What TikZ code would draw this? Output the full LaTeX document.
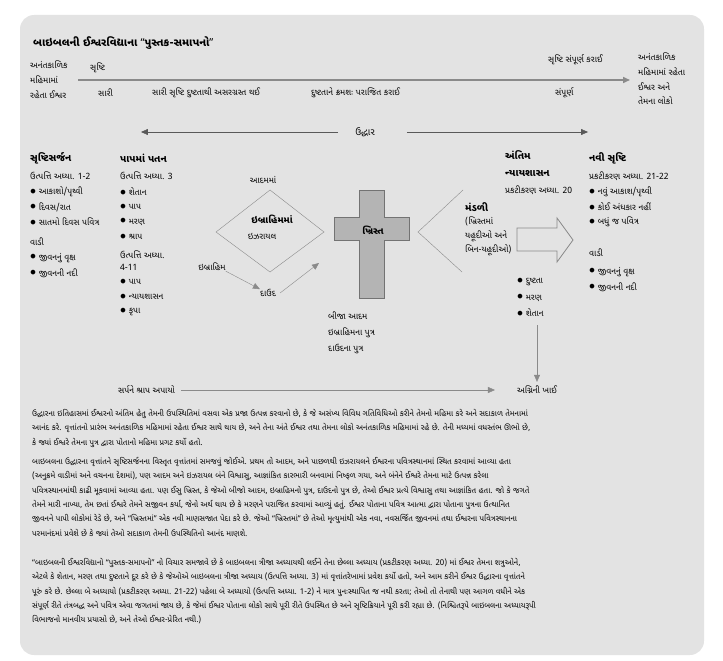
\documentclass[tikz,border=0pt]{standalone}
\usepackage{fontspec}
\setmainfont[Script=Gujarati]{Noto Sans Gujarati UI}
\newfontfamily\latn{Noto Sans}
\usetikzlibrary{arrows.meta}
\definecolor{panel}{HTML}{E3E3E3}
\definecolor{lineg}{HTML}{8A8A8A}
\definecolor{crossg}{HTML}{B4B4B4}
\newcommand{\opq}{{\latn “}}
\newcommand{\clq}{{\latn ”}}
\newcommand{\blt}{\raisebox{0.15ex}{\scalebox{1.3}{$\bullet$}}\hspace{0.3em}}
\tikzset{
  lbl/.style={inner sep=0pt, anchor=west, font=\fontsize{8.7}{14.6}\selectfont},
  lbls/.style={lbl, align=left, anchor=north west},
  head/.style={inner sep=0pt, anchor=west, font=\fontsize{10}{16}\selectfont\bfseries},
  para/.style={inner sep=0pt, anchor=north west, align=left, font=\fontsize{8}{14.4}\selectfont},
  arr/.style={draw=lineg, -{Triangle[length=7pt,width=6pt]}},
}
\begin{document}
\begin{tikzpicture}[x=1bp,y=-1bp]
  \useasboundingbox (0,0) rectangle (723,661);
  % the grey panel
  \fill[panel, rounded corners=14bp] (20,15) rectangle (704,655);
  \node[inner sep=0pt, anchor=west, font=\fontsize{11}{13}\selectfont\bfseries] (title) at (33,43) {બાઇબલની ઈશ્વરવિદ્યાના \opq પુસ્તક-સમાપનો\clq};

  % top time line
  \node[lbls] (god) at (30,61) {અનંતકાળિક\\મહિમામાં\\રહેતા ઈશ્વર};
  \node[lbl] (creation) at (90,68) {સૃષ્ટિ};
  \coordinate (tlA) at (78,80);
  \coordinate (tlB) at (630,80);
  \draw[arr, line width=1.6bp] (tlA) -- (tlB);
  \node[lbl] (good) at (98,93) {સારી};
  \node[lbl] (marred) at (152,93) {સારી સૃષ્ટિ દુષ્ટતાથી અસરગ્રસ્ત થઈ};
  \node[lbl] (defeat) at (311,93) {દુષ્ટતાને ક્રમશઃ પરાજિત કરાઈ};
  \node[lbl] (perfect) at (555,93) {સંપૂર્ણ};
  \node[lbl] (perfected) at (548,60) {સૃષ્ટિ સંપૂર્ણ કરાઈ};
  \node[lbls] (godpeople) at (638,53) {અનંતકાળિક\\મહિમામાં રહેતા\\ઈશ્વર અને\\તેમના લોકો};

  % redemption line
  \node[lbl, anchor=center, font=\fontsize{9.5}{11}\selectfont] (redem) at (365,132) {ઉદ્ધાર};
  \coordinate (redL) at (141,132);
  \coordinate (redR) at (588,132);
  \draw[arr, thin, draw=black!65] ([xshift=-17bp]redem.west) -- (redL);
  \draw[arr, thin, draw=black!65] ([xshift=32bp]redem.east) -- (redR);

  % creation column
  \node[head] (crh) at (30,158) {સૃષ્ટિસર્જન};
  \node[lbl] (cr1) at (30,176) {ઉત્પત્તિ અધ્યા. 1-2};
  \node[lbl] (cr2) at (30,192) {\blt આકાશો/પૃથ્વી};
  \node[lbl] (cr3) at (30,207) {\blt દિવસ/રાત};
  \node[lbl] (cr4) at (30,222) {\blt સાતમો દિવસ પવિત્ર};
  \node[lbl] (cr5) at (30,242) {વાડી};
  \node[lbl] (cr6) at (30,258) {\blt જીવનનું વૃક્ષ};
  \node[lbl] (cr7) at (30,273) {\blt જીવનની નદી};

  % fall column
  \node[head] (fah) at (120,158) {પાપમાં પતન};
  \node[lbl] (fa1) at (120,176) {ઉત્પત્તિ અધ્યા. 3};
  \node[lbl] (fa2) at (120,192) {\blt શેતાન};
  \node[lbl] (fa3) at (120,207) {\blt પાપ};
  \node[lbl] (fa4) at (120,222) {\blt મરણ};
  \node[lbl] (fa5) at (120,237) {\blt શ્રાપ};
  \node[lbl] (fa6) at (120,255) {ઉત્પત્તિ અધ્યા.};
  \node[lbl] (fa7) at (120,267) {4-11};
  \node[lbl] (fa8) at (120,282) {\blt પાપ};
  \node[lbl] (fa9) at (120,297) {\blt ન્યાયશાસન};
  \node[lbl] (fa10) at (120,312) {\blt કૃપા};

  % Abraham, Israel and David
  \node[lbl, anchor=center] (adam) at (263,180) {આદમમાં};
  \draw[lineg] (216,232) -- (270,190) -- (324,232) -- (270,272) -- cycle;
  \node[head, anchor=center, font=\fontsize{9.5}{11}\selectfont\bfseries] (inabr) at (272,219) {ઇબ્રાહિમમાં};
  \node[lbl, anchor=center] (israel) at (262,236) {ઇઝરાયલ};
  \node[lbl, anchor=center] (abraham) at (212,267) {ઇબ્રાહિમ};
  \node[lbl, anchor=center] (david) at (268,293) {દાઉદ};
  \draw[arr] (abraham.south east) -- (david.north west);
  \coordinate (crossin) at (319,263);
  \draw[arr] ([xshift=4bp]david.east) -- (crossin);

  % the cross
  \draw[fill=crossg, draw=black!55] (359,190) -- (384,190) -- (384,217) -- (409,217) -- (409,240)
    -- (384,240) -- (384,298) -- (359,298) -- (359,240) -- (334,240) -- (334,217) -- (359,217) -- cycle;
  \node[head, anchor=center, font=\fontsize{9.5}{11}\selectfont\bfseries] (christ) at (373,230) {ખ્રિસ્ત};
  \node[lbls, font=\fontsize{8.7}{16}\selectfont] (christof) at (328,312) {બીજા આદમ\\ઇબ્રાહિમના પુત્ર\\દાઉદના પુત્ર};

  % the church
  \draw[lineg] (463,190) -- (418,232) -- (462,272);
  \node[head] (church) at (465,207) {મંડળી};
  \node[lbls, font=\fontsize{8.7}{14}\selectfont] (inchrist) at (465,217) {(ખ્રિસ્તમાં\\યહૂદીઓ અને\\બિન-યહૂદીઓ)};
  \draw[lineg, line width=0.8bp] (517,228) -- (557,228) -- (557,218) -- (573,240) -- (557,262) -- (557,251) -- (517,251) -- cycle;

  % final judgment
  \node[lbls, font=\fontsize{10}{17}\selectfont\bfseries] (judg) at (505,150) {અંતિમ\\ન્યાયશાસન};
  \node[lbl] (rev20) at (505,190) {પ્રકટીકરણ અધ્યા. 20};
  \node[lbl] (ju1) at (517,282) {\blt દુષ્ટતા};
  \node[lbl] (ju2) at (517,298) {\blt મરણ};
  \node[lbl] (ju3) at (517,313) {\blt શેતાન};
  \node[lbl, anchor=center] (lake) at (537,390) {અગ્નિની ખાઈ};
  \coordinate (juA) at (537,325);
  \draw[arr] (juA) -- ([yshift=4bp]lake.north);

  % new creation
  \node[head] (nch) at (589,158) {નવી સૃષ્ટિ};
  \node[lbl] (nc1) at (589,176) {પ્રકટીકરણ અધ્યા. 21-22};
  \node[lbl] (nc2) at (589,192) {\blt નવું આકાશ/પૃથ્વી};
  \node[lbl] (nc3) at (589,207) {\blt કોઈ અંધકાર નહીં};
  \node[lbl] (nc4) at (589,222) {\blt બધું જ પવિત્ર};
  \node[lbl] (nc5) at (589,253) {વાડી};
  \node[lbl] (nc6) at (589,272) {\blt જીવનનું વૃક્ષ};
  \node[lbl] (nc7) at (589,287) {\blt જીવનની નદી};

  % serpent cursed
  \node[lbl] (serpent) at (118,390) {સર્પને શ્રાપ અપાયો};
  \draw[arr] ([xshift=6bp]serpent.east) -- ([xshift=-22bp]lake.west);

  % the text below
  \node[para] (p1) at (32,409) {ઉદ્ધારના ઇતિહાસમાં ઈશ્વરનો અંતિમ હેતુ તેમની ઉપસ્થિતિમાં વસવા એક પ્રજા ઉત્પન્ન કરવાનો છે, કે જે અસંખ્ય વિવિધ ગતિવિધિઓ કરીને તેમનો મહિમા કરે અને સદાકાળ તેમનામાં\\
આનંદ કરે. વૃત્તાંતનો પ્રારંભ અનંતકાળિક મહિમામાં રહેતા ઈશ્વર સાથે થાય છે, અને તેના અંતે ઈશ્વર તથા તેમના લોકો અનંતકાળિક મહિમામાં રહે છે. તેની મધ્યમાં વધસ્તંભ ઊભો છે,\\
કે જ્યાં ઈશ્વરે તેમના પુત્ર દ્વારા પોતાનો મહિમા પ્રગટ કર્યો હતો.};
  \node[para] (p2) at (32,457) {બાઇબલના ઉદ્ધારના વૃત્તાંતને સૃષ્ટિસર્જનના વિસ્તૃત વૃત્તાંતમાં સમજવું જોઈએ. પ્રથમ તો આદમ, અને પાછળથી ઇઝરાયલને ઈશ્વરના પવિત્રસ્થાનમાં સ્થિત કરવામાં આવ્યા હતા\\
(અનુક્રમે વાડીમાં અને વચનના દેશમાં), પણ આદમ અને ઇઝરાયલ બંને વિશ્વાસુ, આજ્ઞાંકિત કારભારી બનવામાં નિષ્ફળ ગયા, અને બંનેને ઈશ્વરે તેમના માટે ઉત્પન્ન કરેલા\\
પવિત્રસ્થાનમાંથી કાઢી મૂકવામાં આવ્યા હતા. પણ ઈસુ ખ્રિસ્ત, કે જેઓ બીજો આદમ, ઇબ્રાહિમનો પુત્ર, દાઉદનો પુત્ર છે, તેઓ ઈશ્વર પ્રત્યે વિશ્વાસુ તથા આજ્ઞાંકિત હતા. જો કે જગતે\\
તેમને મારી નાખ્યા, તેમ છતાં ઈશ્વરે તેમને સજીવન કર્યા, જેનો અર્થ થાય છે કે મરણને પરાજિત કરવામાં આવ્યું હતું. ઈશ્વર પોતાના પવિત્ર આત્મા દ્વારા પોતાના પુત્રના ઉત્થાનિત\\
જીવનને પાપી લોકોમાં રેડે છે, અને \opq ખ્રિસ્તમાં\clq{} એક નવી માણસજાત પેદા કરે છે. જેઓ \opq ખ્રિસ્તમાં\clq{} છે તેઓ મૃત્યુમાંથી એક નવા, નવસર્જિત જીવનમાં તથા ઈશ્વરના પવિત્રસ્થાનના\\
પરમાનંદમાં પ્રવેશે છે કે જ્યાં તેઓ સદાકાળ તેમની ઉપસ્થિતિનો આનંદ માણશે.};
  \node[para] (p3) at (32,558) {\opq બાઇબલની ઈશ્વરવિદ્યાનો \opq પુસ્તક-સમાપનો\clq{} નો વિચાર સમજાવે છે કે બાઇબલના ત્રીજા અધ્યાયથી લઈને તેના છેલ્લા અધ્યાય (પ્રકટીકરણ અધ્યા. 20) માં ઈશ્વર તેમના શત્રુઓને,\\
એટલે કે શેતાન, મરણ તથા દુષ્ટતાને દૂર કરે છે કે જેઓએ બાઇબલના ત્રીજા અધ્યાય (ઉત્પત્તિ અધ્યા. 3) માં વૃત્તાંતરેખામાં પ્રવેશ કર્યો હતો, અને આમ કરીને ઈશ્વર ઉદ્ધારના વૃત્તાંતને\\
પૂરું કરે છે. છેલ્લા બે અધ્યાયો (પ્રકટીકરણ અધ્યા. 21-22) પહેલા બે અધ્યાયો (ઉત્પત્તિ અધ્યા. 1-2) ને માત્ર પુનઃસ્થાપિત જ નથી કરતા; તેઓ તો તેનાથી પણ આગળ વધીને એક\\
સંપૂર્ણ રીતે તંત્રબદ્ધ અને પવિત્ર એવા જગતમાં જાય છે, કે જેમાં ઈશ્વર પોતાના લોકો સાથે પૂરી રીતે ઉપસ્થિત છે અને સૃષ્ટિક્રિયાને પૂરી કરી રહ્યા છે. (નિશ્ચિતરૂપે બાઇબલના અધ્યાયરૂપી\\
વિભાજનો માનવીય પ્રયાસો છે, અને તેઓ ઈશ્વર-પ્રેરિત નથી.)};
\end{tikzpicture}
\end{document}
